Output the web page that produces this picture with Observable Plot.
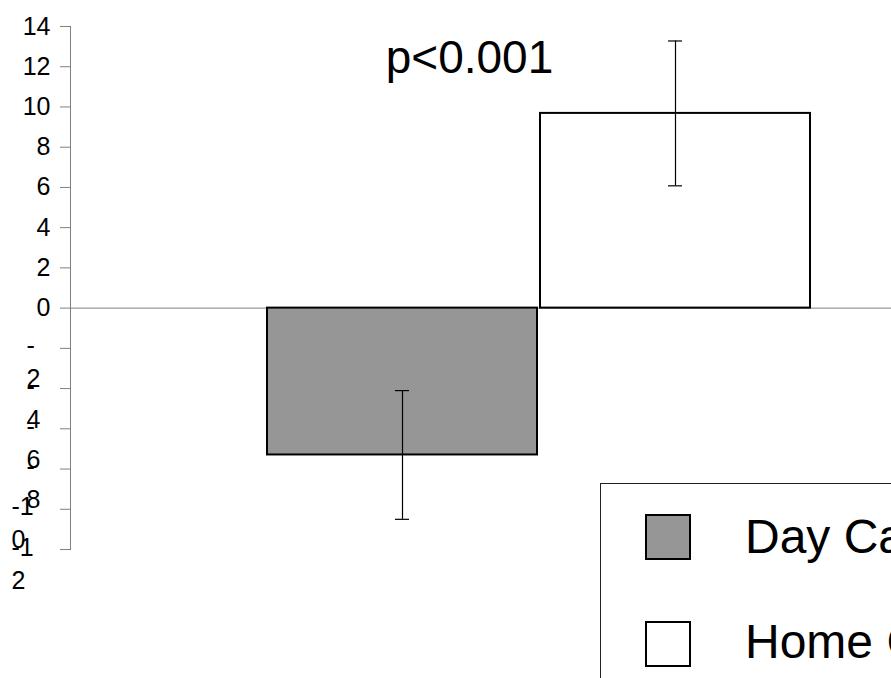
<!DOCTYPE html>
<html>
<head>
<meta charset="utf-8">
<script src="https://cdn.jsdelivr.net/npm/d3@7"></script>
<script src="https://cdn.jsdelivr.net/npm/@observablehq/plot@0.6"></script>
<style>
  html, body { margin: 0; padding: 0; background: #fff; }
  #wrap { position: relative; width: 891px; height: 678px; overflow: hidden; font-family: "Liberation Sans", Arial, sans-serif; }
  #legend { position: absolute; left: 600px; top: 483px; width: 420px; height: 260px; border: 1px solid #222; background: #fff; box-sizing: border-box; }
  .sw { position: absolute; left: 44px; width: 46px; height: 46px; border: 2px solid #000; box-sizing: border-box; }
  .lt { position: absolute; left: 144px; font-size: 48px; line-height: 1; color: #000; white-space: nowrap; }
</style>
</head>
<body>
<div id="wrap"></div>
<script>
// ---- data ----
const categories = ["Day Care", "Home Care"];
const means = [-7.3, 9.68];
const errors = [3.2, 3.6];
const fills = ["#969696", "#ffffff"];
const yTicks = [14, 12, 10, 8, 6, 4, 2, 0, -2, -4, -6, -8, -10, -12];
const yTickLabels = ["14", "12", "10", "8", "6", "4", "2", "0", "-\n2", "-\n4", "-\n6", "-\n8", "-1\n0", "-1\n2"];
const pLabel = "p<0.001";

const data = categories.map((c, i) => ({
  group: c, value: means[i], lo: means[i] - errors[i], hi: means[i] + errors[i]
}));
const labelOf = new Map(yTicks.map((t, i) => [t, yTickLabels[i]]));
const posTicks = yTicks.filter(t => t >= 0);
const negSingle = yTicks.filter(t => t < 0 && t > -10);
const negDouble = yTicks.filter(t => t <= -10);

const gray = "#808080";
const font = "Liberation Sans, Arial, sans-serif";
const fs = 25;

const chart = Plot.plot({
  width: 891,
  height: 678,
  marginLeft: 70,
  marginRight: 0,
  marginTop: 26,
  marginBottom: 129,
  style: { fontFamily: font, background: "#fff", color: "#000" },
  x: { domain: categories, range: [70, 1007], paddingInner: 0.011, paddingOuter: 0.72, axis: null },
  y: { domain: [-12, 14], axis: null },
  color: { domain: categories, range: fills },
  marks: [
    Plot.ruleY([0], { stroke: gray, strokeWidth: 1 }),
    Plot.barY(data, { x: "group", y: "value", fill: "group", stroke: "#000", strokeWidth: 2 }),
    Plot.ruleX(data, { x: "group", y1: "lo", y2: "hi", stroke: "#000", strokeWidth: 1.2 }),
    Plot.tickY(data, { x: "group", y: "lo", insetLeft: 128, insetRight: 128, stroke: "#000", strokeWidth: 1.2 }),
    Plot.tickY(data, { x: "group", y: "hi", insetLeft: 128, insetRight: 128, stroke: "#000", strokeWidth: 1.2 }),
    Plot.frame({ anchor: "left", stroke: gray }),
    // tick marks only
    Plot.axisY(yTicks, { tickSize: 10, stroke: gray, tickFormat: () => "" }),
    // labels
    Plot.axisY(posTicks, { tickSize: 0, tickPadding: 20, fill: "#000", fontSize: fs, tickFormat: d => labelOf.get(d) }),
    Plot.axisY(negSingle, { tickSize: 0, tickPadding: 44, textAnchor: "start", lineHeight: 1.32, dy: 12, fill: "#000", fontSize: fs, tickFormat: d => labelOf.get(d) }),
    Plot.axisY(negDouble, { tickSize: 0, tickPadding: 59, textAnchor: "start", lineHeight: 1.32, dy: 12, fill: "#000", fontSize: fs, tickFormat: d => labelOf.get(d) }),
    Plot.text([pLabel], { frameAnchor: "top-left", lineAnchor: "middle", dx: 399, dy: 32, fontSize: 46, textAnchor: "middle", fill: "#000" })
  ]
});

const wrap = document.getElementById("wrap");
wrap.appendChild(chart);

// legend
const legend = document.createElement("div");
legend.id = "legend";
const swTops = [30, 137];
const txtTops = [29, 134];
categories.forEach((c, i) => {
  const sw = document.createElement("div");
  sw.className = "sw";
  sw.style.top = swTops[i] + "px";
  sw.style.background = fills[i];
  legend.appendChild(sw);
  const t = document.createElement("div");
  t.className = "lt";
  t.style.top = txtTops[i] + "px";
  t.textContent = c;
  legend.appendChild(t);
});
wrap.appendChild(legend);
</script>
</body>
</html>
